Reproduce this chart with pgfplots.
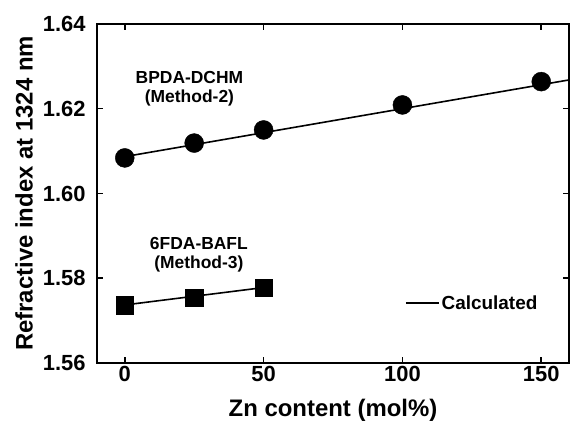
\documentclass[border=0pt]{standalone}
\usepackage{pgfplots}
\pgfplotsset{compat=1.18}
\usepackage{fontspec}
\setmainfont{Liberation Sans}

\begin{document}
\begin{tikzpicture}
\useasboundingbox (0,0) rectangle (571bp,423bp);
\begin{axis}[
  at={(97bp,60bp)}, anchor=south west,
  scale only axis, width=472bp, height=339bp,
  xmin=-10, xmax=160, ymin=1.56, ymax=1.64,
  xtick={0,50,100,150},
  ytick={1.56,1.58,1.60,1.62,1.64},
  tick align=inside, major tick length=6bp,
  axis line style={line width=2bp},
  every tick/.style={black, line width=1.5bp},
  /pgf/number format/assume math mode=true,
  yticklabel style={/pgf/number format/.cd, fixed, fixed zerofill, precision=2, /tikz/.cd, xshift=-8bp},
  tick label style={font=\fontsize{22}{24}\selectfont\bfseries},
  label style={font=\fontsize{24}{28}\selectfont\bfseries},
  xlabel={Zn content (mol\%)},
  ylabel={Refractive index at 1324 nm},
  xlabel style={at={(axis description cs:0.5,0)}, anchor=center, yshift=-47bp},
  ylabel style={at={(axis description cs:0,0.5)}, anchor=center, yshift=73bp},
  legend style={draw=none, fill=none, at={(0.944,0.177)}, anchor=east,
    font=\fontsize{19}{22}\selectfont\bfseries},
  legend cell align=left,
  legend image code/.code={\draw[#1] (-4bp,0bp) -- (29bp,0bp);},
]
% calculated trend lines
\addplot[black, line width=1.6bp] coordinates {(0,1.6087) (160,1.6268)};
\addlegendentry{Calculated}
\addplot[black, line width=1.6bp, forget plot] coordinates {(0,1.5737) (50,1.5778)};

% BPDA-DCHM (Method-2)
\addplot[only marks, mark=*, mark size=9.5bp, black, forget plot]
  coordinates {(0,1.6084) (25,1.6119) (50,1.6150) (100,1.6209) (150,1.6264)};
% 6FDA-BAFL (Method-3)
\addplot[only marks, mark=square*, mark size=8.8bp, black, forget plot]
  coordinates {(0,1.5737) (25,1.5754) (50,1.5778)};

\node[align=center, font=\fontsize{17.5}{19}\selectfont\bfseries]
  at (axis cs:23.3,1.6247) {BPDA-DCHM\\(Method-2)};
\node[align=center, font=\fontsize{17.5}{19}\selectfont\bfseries]
  at (axis cs:26.7,1.5855) {6FDA-BAFL\\(Method-3)};
\end{axis}
\end{tikzpicture}
\end{document}
